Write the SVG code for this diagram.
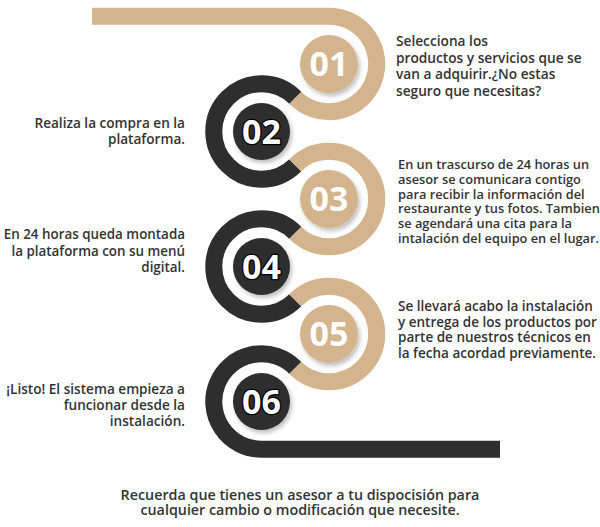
<svg xmlns="http://www.w3.org/2000/svg" width="600" height="527" viewBox="0 0 600 527">
<style>
.gold{fill:none;stroke:#D3B48C;stroke-width:17;stroke-linecap:butt}
.dark{fill:none;stroke:#2E2E2E;stroke-width:17;stroke-linecap:butt}
.gc{fill:#D3B48C;filter:url(#sh)}
.dc{fill:#2E2E2E;filter:url(#sh)}
.num{font-family:"Open Sans","Noto Sans",sans-serif;font-weight:700;font-size:34px;fill:#fff;text-anchor:middle}
.numd{stroke:#000;stroke-width:2.5;paint-order:stroke;stroke-linejoin:round}
.t{font-family:"Open Sans","Noto Sans",sans-serif;font-weight:600;fill:#333}
.r{text-anchor:end}
.c{text-anchor:middle}
</style>
<defs>
<filter id="sh" x="-30%" y="-30%" width="160%" height="160%">
<feDropShadow dx="2" dy="3" stdDeviation="2" flood-color="#000" flood-opacity="0.25"/>
</filter>
</defs>
<g id="connectors">
<path class="gold" d="M92,16.27 H329 A47.73,47.73 0 1 1 295.25,97.75"/>
<path class="dark" d="M295.25,97.75 A47.73,47.73 0 1 0 295.25,165.25"/>
<path class="gold" d="M295.25,165.25 A47.73,47.73 0 1 1 295.25,232.75"/>
<path class="dark" d="M295.25,232.75 A47.73,47.73 0 1 0 295.25,300.25"/>
<path class="gold" d="M295.25,300.25 A47.73,47.73 0 1 1 295.25,367.75"/>
<path class="dark" d="M295.25,367.75 A47.73,47.73 0 1 0 261.5,449.23 H500"/>
</g>
<g id="step01">
<circle class="gc" cx="329" cy="64" r="29"/>
<text class="num" x="329" y="76">01</text>
<text class="t" font-size="13.7"><tspan x="396" y="46">Selecciona los</tspan><tspan x="396" y="62.6">productos y servicios que se</tspan><tspan x="396" y="79.2">van a adquirir.¿No estas</tspan><tspan x="396" y="95.8">seguro que necesitas?</tspan></text>
</g>
<g id="step02">
<circle class="dc" cx="261.5" cy="131.5" r="28.5"/>
<text class="num numd" x="261.5" y="143.5">02</text>
<text class="t r" font-size="13.6"><tspan x="185" y="128">Realiza la compra en la</tspan><tspan x="185" y="144">plataforma.</tspan></text>
</g>
<g id="step03">
<circle class="gc" cx="329" cy="199" r="29"/>
<text class="num" x="329" y="211">03</text>
<text class="t" font-size="12.8"><tspan x="398" y="169">En un trascurso de 24 horas un</tspan><tspan x="398" y="183.8">asesor se comunicara contigo</tspan><tspan x="398" y="198.6">para recibir la información del</tspan><tspan x="398" y="213.4">restaurante y tus fotos. Tambien</tspan><tspan x="398" y="228.2">se agendará una cita para la</tspan><tspan x="398" y="243">intalación del equipo en el lugar.</tspan></text>
</g>
<g id="step04">
<circle class="dc" cx="261.5" cy="266.5" r="28.5"/>
<text class="num numd" x="261.5" y="278.5">04</text>
<text class="t r" font-size="13.4"><tspan x="185" y="239">En 24 horas queda montada</tspan><tspan x="185" y="255.5">la plataforma con su menú</tspan><tspan x="185" y="272">digital.</tspan></text>
</g>
<g id="step05">
<circle class="gc" cx="329" cy="334" r="29"/>
<text class="num" x="329" y="346">05</text>
<text class="t" font-size="13.5"><tspan x="398" y="311">Se llevará acabo la instalación</tspan><tspan x="398" y="326.5">y entrega de los productos por</tspan><tspan x="398" y="342">parte de nuestros técnicos en</tspan><tspan x="398" y="357.5">la fecha acordad previamente.</tspan></text>
</g>
<g id="step06">
<circle class="dc" cx="261.5" cy="401.5" r="28.5"/>
<text class="num numd" x="261.5" y="413.5">06</text>
<text class="t r" font-size="13.6"><tspan x="185" y="394">¡Listo! El sistema empieza a</tspan><tspan x="185" y="410">funcionar desde la</tspan><tspan x="185" y="426">instalación.</tspan></text>
</g>
<g id="footer">
<text class="t c" font-size="14.3"><tspan x="300" y="500">Recuerda que tienes un asesor a tu dispocisión para</tspan><tspan x="300" y="514.5">cualquier cambio o modificación que necesite.</tspan></text>
</g>
</svg>
